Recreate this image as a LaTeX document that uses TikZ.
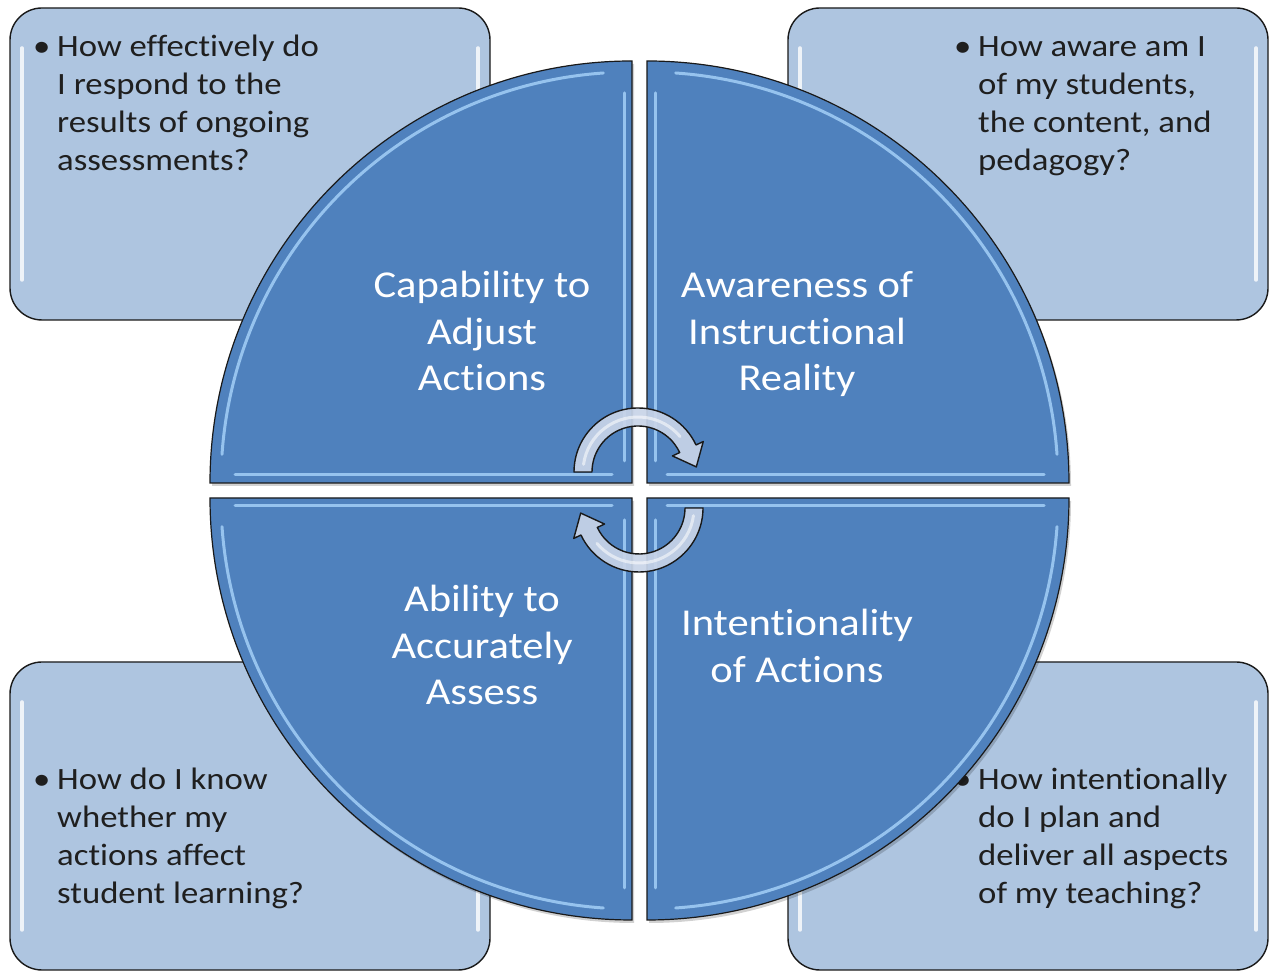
\documentclass[tikz,border=0pt]{standalone}
\usepackage{fontspec}
\setmainfont{Carlito}[FakeStretch=1.12, Ligatures={NoCommon}]
\usetikzlibrary{calc}
\definecolor{secblue}{RGB}{79,129,189}
\definecolor{boxblue}{RGB}{174,197,224}
\definecolor{hilite}{RGB}{150,195,238}
\definecolor{arrfill}{RGB}{200,212,232}
\definecolor{edgec}{RGB}{25,25,25}
\begin{document}
\begin{tikzpicture}[x=1pt,y=1pt,
  qbox/.style={fill=boxblue, draw=edgec, line width=1.4pt, rounded corners=32pt},
  sector/.style={fill=secblue, draw=edgec, line width=1.2pt},
  shine/.style={draw=hilite, line width=3pt, line cap=round},
  boxshine/.style={draw=white, line width=3.5pt, line cap=round, opacity=0.8},
  qtext/.style={anchor=base west, inner sep=0pt, text=black!88, font=\fontsize{31}{38}\selectfont},
  stext/.style={anchor=base, inner sep=0pt, text=white, font=\fontsize{38}{46.5}\selectfont},
  cyc/.style={fill=arrfill, fill opacity=0.92, draw=edgec, line width=1.4pt, line join=round}]
\useasboundingbox (0,0) rectangle (1274,973);
\fill[white] (0,0) rectangle (1274,973);
% question boxes
\foreach \bx/\by/\bh in {10/653/312, 788/653/312, 10/3/308, 788/3/308} {
  \draw[qbox] (\bx,\by) rectangle ++(480,\bh);
  \draw[boxshine] (\bx+12,\by+40) -- (\bx+12,\by+\bh-40);
  \draw[boxshine] (\bx+468,\by+40) -- (\bx+468,\by+\bh-40);
}
\node[qtext] (qtl) at (33,916) {\begin{tabular}[t]{@{}l@{}l@{}}\makebox[24pt][l]{\textbullet}&How effectively do\\&I respond to the\\&results of ongoing\\&assessments?\end{tabular}};
\node[qtext] (qtr) at (954,916) {\begin{tabular}[t]{@{}l@{}l@{}}\makebox[24pt][l]{\textbullet}&How aware am I\\&of my students,\\&the content, and\\&pedagogy?\end{tabular}};
\node[qtext] (qbl) at (33,183) {\begin{tabular}[t]{@{}l@{}l@{}}\makebox[24pt][l]{\textbullet}&How do I know\\&whether my\\&actions affect\\&student learning?\end{tabular}};
\node[qtext] (qbr) at (954,183) {\begin{tabular}[t]{@{}l@{}l@{}}\makebox[24pt][l]{\textbullet}&How intentionally\\&do I plan and\\&deliver all aspects\\&of my teaching?\end{tabular}};
% sectors
\foreach \cx/\cy/\sa/\ea in {632/490/180/90, 647/490/90/0, 632/475/180/270, 647/475/0/-90} {
  \fill[black, opacity=0.18] (\cx+2,\cy-3) -- ([shift={(\cx+2,\cy-3)}]\sa:422) arc[start angle=\sa, end angle=\ea, radius=422] -- cycle;
  \draw[sector] (\cx,\cy) -- ([shift={(\cx,\cy)}]\sa:422) arc[start angle=\sa, end angle=\ea, radius=422] -- cycle;
}
% sector highlights
\draw[shine] ([shift={(632,490)}]176:411) arc[start angle=176, end angle=94, radius=411];
\draw[shine] (235,498) -- (612,498);
\draw[shine] (624,512) -- (624,880);
\draw[shine] ([shift={(647,490)}]86:411) arc[start angle=86, end angle=4, radius=411];
\draw[shine] (667,498) -- (1044,498);
\draw[shine] (655,512) -- (655,880);
\draw[shine] ([shift={(632,475)}]184:411) arc[start angle=184, end angle=266, radius=411];
\draw[shine] (235,467) -- (612,467);
\draw[shine] (624,453) -- (624,85);
\draw[shine] ([shift={(647,475)}]-4:411) arc[start angle=-4, end angle=-86, radius=411];
\draw[shine] (667,467) -- (1044,467);
\draw[shine] (655,453) -- (655,85);
% sector labels
\node[stext] (stl) at (482,675) {\begin{tabular}[t]{@{}c@{}}Capability to\\Adjust\\Actions\end{tabular}};
\node[stext] (str) at (797,675) {\begin{tabular}[t]{@{}c@{}}Awareness of\\Instructional\\Reality\end{tabular}};
\node[stext] (sbl) at (482,361) {\begin{tabular}[t]{@{}c@{}}Ability to\\Accurately\\Assess\end{tabular}};
\node[stext] (sbr) at (797,337) {\begin{tabular}[t]{@{}c@{}}Intentionality\\of Actions\end{tabular}};
% cycle arrows
\begin{scope}[shift={(638,501)}]
  \draw[cyc] (180:64) arc[start angle=180, end angle=25, radius=64] -- (25:72) -- (58.3,5.1) -- (25:38) -- (25:46) arc[start angle=25, end angle=180, radius=46] -- cycle;
  \draw[white, opacity=0.55, line width=3pt, line cap=round] (172:55) arc[start angle=172, end angle=40, radius=55];
\end{scope}
\begin{scope}[rotate around={180:(638.5,483)}, shift={(638,501)}]
  \draw[cyc] (180:64) arc[start angle=180, end angle=25, radius=64] -- (25:72) -- (58.3,5.1) -- (25:38) -- (25:46) arc[start angle=25, end angle=180, radius=46] -- cycle;
  \draw[white, opacity=0.55, line width=3pt, line cap=round] (172:55) arc[start angle=172, end angle=40, radius=55];
\end{scope}
\end{tikzpicture}
\end{document}
